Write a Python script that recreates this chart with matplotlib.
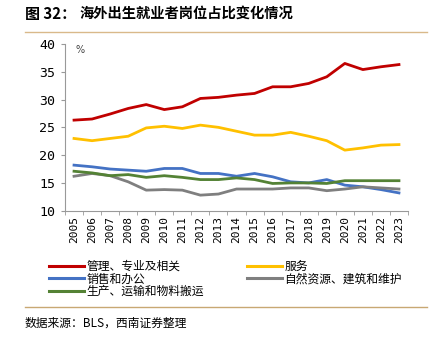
import matplotlib
matplotlib.use("Agg")
import matplotlib.pyplot as plt
from matplotlib.lines import Line2D

plt.rcParams["font.family"] = ["Noto Sans CJK SC", "DejaVu Sans"]

years = list(range(2005, 2024))
mgmt = [26.3, 26.5, 27.4, 28.4, 29.1, 28.2, 28.7, 30.2, 30.4, 30.8, 31.1, 32.3, 32.3, 32.9, 34.1, 36.5, 35.4, 35.9, 36.3]
service = [23.0, 22.6, 23.0, 23.4, 24.9, 25.2, 24.8, 25.4, 25.0, 24.3, 23.6, 23.6, 24.1, 23.4, 22.6, 20.9, 21.3, 21.8, 21.9]
sales = [18.2, 17.9, 17.5, 17.3, 17.1, 17.6, 17.6, 16.7, 16.7, 16.2, 16.7, 16.1, 15.2, 15.0, 15.6, 14.6, 14.3, 13.8, 13.2]
natural = [16.2, 16.7, 16.3, 15.2, 13.7, 13.8, 13.7, 12.8, 13.0, 13.9, 13.9, 13.9, 14.1, 14.1, 13.6, 13.9, 14.3, 14.1, 13.9]
production = [17.1, 16.8, 16.3, 16.5, 16.0, 16.3, 16.0, 15.6, 15.6, 15.9, 15.6, 14.9, 15.0, 15.0, 14.9, 15.4, 15.4, 15.4, 15.4]

names = ["管理、专业及相关", "服务", "销售和办公", "自然资源、建筑和维护", "生产、运输和物料搬运"]
colors = ["#C00000", "#FFC000", "#4472C4", "#7F7F7F", "#548235"]
series = [mgmt, service, sales, natural, production]

fig = plt.figure(figsize=(4.37, 3.4), dpi=100)
ax = fig.add_axes([65 / 437, 1 - 210.7 / 340, (408 - 65) / 437, (210.7 - 44) / 340])

for s, c in zip(series, colors):
    ax.plot(years, s, color=c, lw=2)

ax.set_ylim(10, 40)
ax.set_yticks(range(10, 41, 5))
ax.set_xlim(2004.5, 2023.5)
ax.set_xticks(years)
ax.set_xticklabels([str(y) for y in years], rotation=90, family="DejaVu Sans Mono", fontsize=8)
ax.set_yticklabels([str(v) for v in range(10, 41, 5)], family="DejaVu Sans Mono", fontsize=9.5)
ax.set_xticks([y + 0.5 for y in [2004] + years], minor=True)
ax.tick_params(axis="x", which="major", length=0, pad=4)
ax.tick_params(axis="x", which="minor", length=3, color="#999999")
ax.tick_params(axis="y", length=3, color="#999999", pad=4)
for sp in ["top", "right"]:
    ax.spines[sp].set_visible(False)
for sp in ["left", "bottom"]:
    ax.spines[sp].set_color("#999999")
ax.text(2005.1, 39, "%", fontsize=7, color="#444444", va="center", family="DejaVu Sans")

handles = [Line2D([], [], color=c, lw=2.2) for c in colors]
order = [0, 2, 4, 1, 3]
leg = fig.legend([handles[i] for i in order], [names[i] for i in order], ncol=2,
                 loc="upper left", bbox_to_anchor=(43 / 437, 1 - 254 / 340),
                 frameon=False, fontsize=8.5, handlelength=3.0, handletextpad=0.2,
                 labelspacing=-0.05, columnspacing=3.6, borderpad=0)

fig.text(25 / 437, 1 - 14 / 340, "图 32：", fontsize=10.8, fontweight="bold", va="center")
fig.text(80 / 437, 1 - 14 / 340, "海外出生就业者岗位占比变化情况", fontsize=10.3,
         fontweight="bold", va="center")
fig.add_artist(Line2D([25 / 437, 427 / 437], [1 - 32 / 340, 1 - 32 / 340], color="#D9B98A", lw=1))
fig.add_artist(Line2D([25 / 437, 427 / 437], [1 - 307 / 340, 1 - 307 / 340], color="#C8A873", lw=1))
fig.text(25 / 437, 1 - 323 / 340, "数据来源：BLS，西南证券整理", fontsize=8.5, style="italic", va="center")

fig.savefig("out.png", dpi=100)
